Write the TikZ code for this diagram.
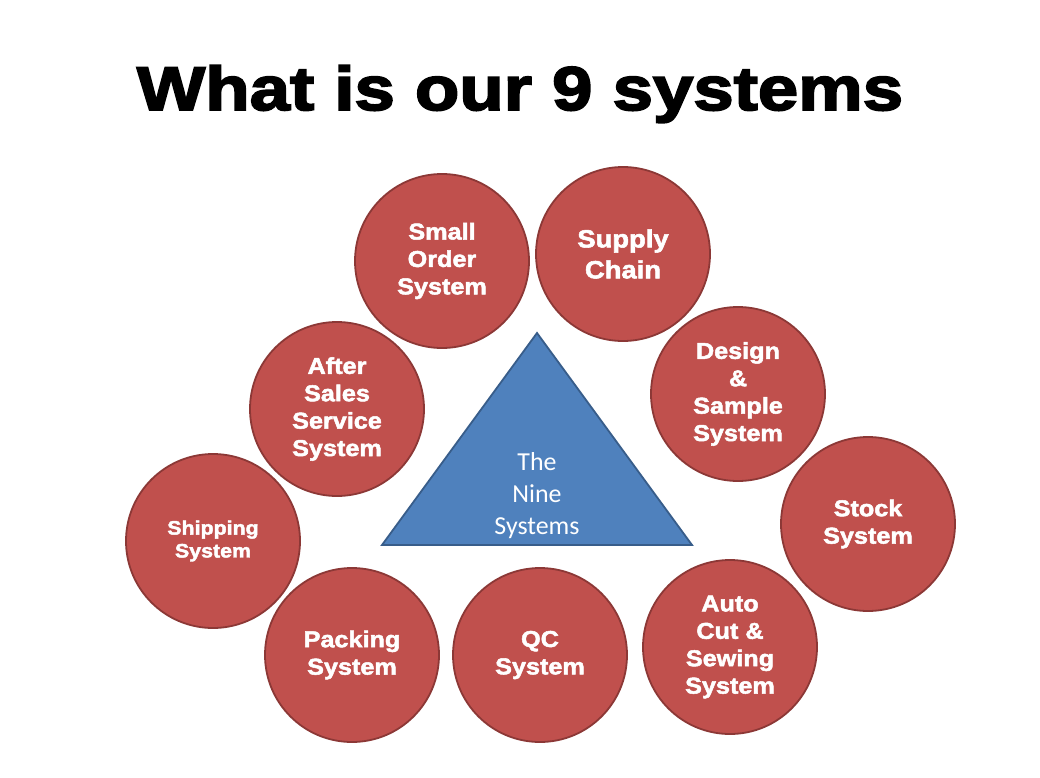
\documentclass[tikz,border=0pt]{standalone}
\usepackage{fontspec}
\newfontfamily\titlefont[FakeBold=3,FakeStretch=1.175]{Liberation Sans}
\newfontfamily\circfont[FakeBold=2.2,FakeStretch=1.1]{Liberation Sans}
\newfontfamily\trifont{Carlito}
\definecolor{sysred}{HTML}{C0504D}
\definecolor{sysredline}{HTML}{8C3836}
\definecolor{sysblue}{HTML}{4F81BD}
\definecolor{sysblueline}{HTML}{385D8A}
\begin{document}
\begin{tikzpicture}[x=1bp,y=-1bp]
		\tikzstyle{sys}=[circle,fill=sysred,draw=sysredline,line width=1.8bp,minimum size=174bp,inner sep=0pt,align=center,text=white,font=\circfont\bfseries\fontsize{23}{27.5}\selectfont]
		\useasboundingbox (0,0) rectangle (1040,778);
		\fill[white] (0,0) rectangle (1040,778);

		\node[anchor=base,inner sep=0pt,font=\titlefont\bfseries\fontsize{62}{70}\selectfont] (title) at (520,110) {What is our 9 systems};

		% the middle triangle
		\coordinate (top) at (537,333);
		\coordinate (left) at (382,545);
		\coordinate (right) at (692,545);
		\draw[fill=sysblue,draw=sysblueline,line width=1.8bp,line join=miter] (top) -- (left) -- (right) -- cycle;
		\node[anchor=south,inner sep=0pt,align=center,text=white,font=\trifont\fontsize{26}{32}\selectfont] (nine) at (537,539) {The\\Nine\\Systems};

		\begin{scope}
		\node[sys] (smallorder) at (442,261) {Small\\Order\\System};
		\node[sys,font=\circfont\bfseries\fontsize{25}{31}\selectfont] (supply) at (623,254) {Supply\\Chain};
		\node[sys] (design) at (738,394) {Design\\\&\\Sample\\System};
		\node[sys] (stock) at (868,524) {Stock\\System};
		\node[sys] (autocut) at (730,647) {Auto\\Cut \&\\Sewing\\System};
		\node[sys] (qc) at (540,655) {QC\\System};
		\node[sys] (packing) at (352,655) {Packing\\System};
		\node[sys,font=\circfont\bfseries\fontsize{19.5}{23}\selectfont] (shipping) at (213,541) {Shipping\\System};
		\node[sys] (aftersales) at (337,409) {After\\Sales\\Service\\System};
		\end{scope}
\end{tikzpicture}
\end{document}
